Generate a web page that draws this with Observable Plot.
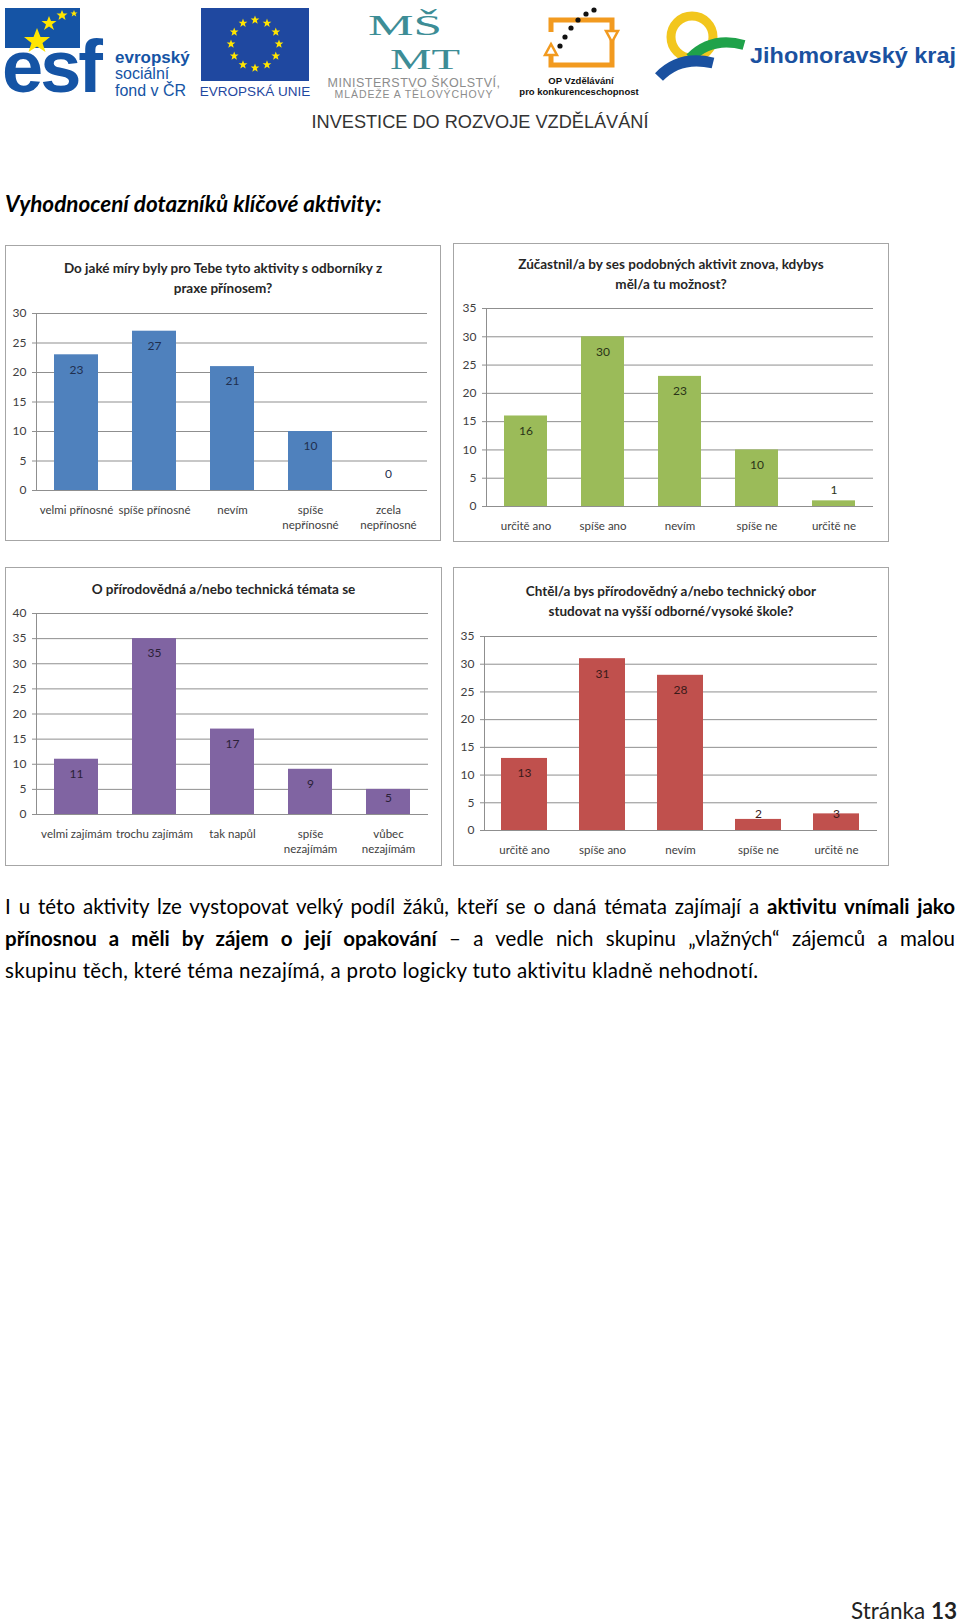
<!DOCTYPE html>
<html lang="cs">
<head>
<meta charset="utf-8">
<script src="https://cdn.jsdelivr.net/npm/d3@7"></script>
<script src="https://cdn.jsdelivr.net/npm/@observablehq/plot@0.6"></script>
<style>
  html, body { margin: 0; padding: 0; background: #fff; }
  #page { position: relative; width: 960px; height: 1624px; overflow: hidden; background: #fff; font-family: Lato, "Open Sans", sans-serif; color: #000; }
  .abs { position: absolute; white-space: nowrap; }
  .box { position: absolute; box-sizing: border-box; border: 1.5px solid #a6a6a6; background: #fff; }
  .ctitle { position: absolute; left: 0; right: 0; text-align: center; font-weight: bold; font-size: 13.5px; line-height: 20px; color: #262626; white-space: pre; }
  .para { position: absolute; left: 5px; width: 950px; font-size: 20.5px; line-height: 24px; color: #000; }
  .just { text-align: justify; text-align-last: justify; }
</style>
</head>
<body>
<div id="page">
  <!-- header logos -->
  <svg class="abs" style="left:0;top:0" width="960" height="135" viewBox="0 0 960 135">
    <!-- ESF -->
    <rect x="5" y="8" width="75" height="40" fill="#1554a5"/>
    <text x="2" y="92" font-family="Liberation Sans, Arial" font-weight="bold" font-size="74" fill="#1554a5" letter-spacing="-3">esf</text>
    <polygon points="37,28 40.5,37 50,37 42.5,43 45.5,52 37,46.5 28.5,52 31.5,43 24,37 33.5,37" fill="#ffe500"/>
    <polygon points="49,16 51,21 56.5,21 52,24.5 54,30 49,26.5 44,30 46,24.5 41.5,21 47,21" fill="#ffe500"/>
    <polygon points="62,10 63.5,13.5 67.5,13.5 64.5,16 65.5,20 62,17.5 58.5,20 59.5,16 56.5,13.5 60.5,13.5" fill="#ffe500"/>
    <polygon points="74,10 75,12.5 77.5,12.5 75.5,14 76.3,16.5 74,15 71.7,16.5 72.5,14 70.5,12.5 73,12.5" fill="#ffe500"/>
    <text x="115" y="63" font-family="Liberation Sans, Arial" font-weight="bold" font-size="17" fill="#1554a5">evropský</text>
    <text x="115" y="79" font-family="Liberation Sans, Arial" font-size="16" fill="#1554a5">sociální</text>
    <text x="115" y="96" font-family="Liberation Sans, Arial" font-size="16" fill="#1554a5">fond v ČR</text>
    <!-- EU -->
    <rect x="201" y="8" width="108" height="73" fill="#1f48a0"/>
    <g id="eustars" fill="#ffe500"></g>
    <text x="255" y="96" text-anchor="middle" font-family="Liberation Sans, Arial" font-size="13.5" fill="#1f48a0">EVROPSKÁ UNIE</text>
    <!-- MSMT -->
    <text x="368" y="35" font-family="Liberation Serif, serif" font-size="30" fill="#3d8d96" textLength="74" lengthAdjust="spacingAndGlyphs">MŠ</text>
    <text x="390" y="68.5" font-family="Liberation Serif, serif" font-size="30" fill="#3d8d96" textLength="70" lengthAdjust="spacingAndGlyphs">MT</text>
    <text x="414" y="87" text-anchor="middle" font-family="Liberation Sans, Arial" font-size="12.5" fill="#8c8c8c" letter-spacing="0.5">MINISTERSTVO ŠKOLSTVÍ,</text>
    <text x="414" y="98" text-anchor="middle" font-family="Liberation Sans, Arial" font-size="10.5" fill="#8c8c8c" letter-spacing="0.9">MLÁDEŽE A TĚLOVÝCHOVY</text>
    <!-- OP -->
    <path d="M 551 48 L 551 65 L 612 65 L 612 20 L 551 20 L 551 32" fill="none" stroke="#f29a1f" stroke-width="5"/>
    <polygon points="551,44 545,55 557,55" fill="#fff" stroke="#f29a1f" stroke-width="2.5"/>
    <polygon points="612,42 606,31 618,31" fill="#fff" stroke="#f29a1f" stroke-width="2.5"/>
    <circle cx="560" cy="46" r="2.6" fill="#111"/>
    <circle cx="565" cy="37" r="2.6" fill="#111"/>
    <circle cx="571" cy="28" r="2.6" fill="#111"/>
    <circle cx="578" cy="20" r="2.6" fill="#111"/>
    <circle cx="586" cy="14" r="2.6" fill="#111"/>
    <circle cx="594" cy="10" r="2.6" fill="#111"/>
    <text x="581" y="84" text-anchor="middle" font-family="Liberation Sans, Arial" font-weight="bold" font-size="9.5" fill="#111">OP Vzdělávání</text>
    <text x="579" y="95" text-anchor="middle" font-family="Liberation Sans, Arial" font-weight="bold" font-size="9.5" fill="#111">pro konkurenceschopnost</text>
    <!-- Jihomoravsky kraj -->
    <circle cx="692" cy="37" r="21" fill="none" stroke="#f2c61d" stroke-width="9"/>
    <path d="M 690 58 Q 712 36 744 45" fill="none" stroke="#1fa24a" stroke-width="10"/>
    <path d="M 659 77 Q 680 55 713 63" fill="none" stroke="#1a51a0" stroke-width="11"/>
    <text x="750" y="63" font-family="Liberation Sans, Arial" font-weight="bold" font-size="22.5" fill="#1a51a0" textLength="206" lengthAdjust="spacingAndGlyphs">Jihomoravský kraj</text>
    <text x="480" y="128" text-anchor="middle" font-family="Liberation Sans Narrow, Liberation Sans, Arial" font-size="18.5" fill="#333" textLength="337" lengthAdjust="spacingAndGlyphs">INVESTICE DO ROZVOJE VZDĚLÁVÁNÍ</text>
  </svg>

  <div class="abs" style="left:5px;top:191px;font-size:22.5px;font-weight:bold;font-style:italic;line-height:26px;">Vyhodnocení dotazníků klíčové aktivity:</div>

  <div class="para just" style="top:894px;">I u této aktivity lze vystopovat velký podíl žáků, kteří se o daná témata zajímají a <b>aktivitu vnímali jako</b></div>
  <div class="para just" style="top:926px;"><b>přínosnou a měli by zájem o její opakování</b> – a vedle nich skupinu „vlažných“ zájemců a malou</div>
  <div class="para" style="top:958px;letter-spacing:0.3px;">skupinu těch, které téma nezajímá, a proto logicky tuto aktivitu kladně nehodnotí.</div>

  <div class="abs" style="right:3px;top:1597px;font-size:22.5px;line-height:28px;color:#222;">Stránka <b>13</b></div>
</div>

<script>
// ---------- data ----------
const title1 = "Do jaké míry byly pro Tebe tyto aktivity s odborníky z\npraxe přínosem?";
const cats1 = ["velmi přínosné", "spíše přínosné", "nevím", "spíše\nnepřínosné", "zcela\nnepřínosné"];
const vals1 = [23, 27, 21, 10, 0];
const ticks1 = [0, 5, 10, 15, 20, 25, 30];

const title2 = "Zúčastnil/a by ses podobných aktivit znova, kdybys\nměl/a tu možnost?";
const cats2 = ["určitě ano", "spíše ano", "nevím", "spíše ne", "určitě ne"];
const vals2 = [16, 30, 23, 10, 1];
const ticks2 = [0, 5, 10, 15, 20, 25, 30, 35];

const title3 = "O přírodovědná a/nebo technická témata se";
const cats3 = ["velmi zajímám", "trochu zajímám", "tak napůl", "spíše\nnezajímám", "vůbec\nnezajímám"];
const vals3 = [11, 35, 17, 9, 5];
const ticks3 = [0, 5, 10, 15, 20, 25, 30, 35, 40];

const title4 = "Chtěl/a bys přírodovědný a/nebo technický obor\nstudovat na vyšší odborné/vysoké škole?";
const cats4 = ["určitě ano", "spíše ano", "nevím", "spíše ne", "určitě ne"];
const vals4 = [13, 31, 28, 2, 3];
const ticks4 = [0, 5, 10, 15, 20, 25, 30, 35];

// ---------- EU stars ----------
(function () {
  const g = document.getElementById("eustars");
  const cx = 255, cy = 44, R = 24, r1 = 4.6, r2 = 1.9;
  for (let k = 0; k < 12; k++) {
    const a = (k / 12) * 2 * Math.PI;
    const sx = cx + R * Math.sin(a), sy = cy - R * Math.cos(a);
    const pts = [];
    for (let j = 0; j < 10; j++) {
      const rr = j % 2 === 0 ? r1 : r2;
      const b = (j / 10) * 2 * Math.PI;
      pts.push((sx + rr * Math.sin(b)).toFixed(2) + "," + (sy - rr * Math.cos(b)).toFixed(2));
    }
    const p = document.createElementNS("http://www.w3.org/2000/svg", "polygon");
    p.setAttribute("points", pts.join(" "));
    g.appendChild(p);
  }
})();

// ---------- charts ----------
const page = document.getElementById("page");

function chart(cfg) {
  const {title, cats, vals, ticks, color, box, plotBox, titleTop, padInner, labelColor} = cfg;
  const div = document.createElement("div");
  div.className = "box";
  div.style.left = box.x0 + "px";
  div.style.top = box.y0 + "px";
  div.style.width = (box.x1 - box.x0) + "px";
  div.style.height = (box.y1 - box.y0) + "px";
  page.appendChild(div);

  const t = document.createElement("div");
  t.className = "ctitle";
  t.style.top = (titleTop - box.y0) + "px";
  t.textContent = title;
  div.appendChild(t);

  const data = cats.map((c, i) => ({cat: c, value: vals[i]}));
  const max = ticks[ticks.length - 1];
  const svgTop = plotBox.y0 - 15;
  const svgBottom = box.y1 - 2;
  const height = svgBottom - svgTop;
  const width = box.x1 - box.x0;
  const plotH = plotBox.y1 - plotBox.y0;
  const ppu = plotH / max;
  const big = data.filter(d => d.value * ppu >= 28);
  const small = data.filter(d => d.value * ppu < 28);

  const svg = Plot.plot({
    width, height,
    marginLeft: plotBox.x0 - box.x0,
    marginRight: box.x1 - plotBox.x1,
    marginTop: 15,
    marginBottom: svgBottom - plotBox.y1,
    style: {fontFamily: "Lato, 'Open Sans', sans-serif", fontSize: "11px", background: "transparent", overflow: "visible"},
    x: {domain: cats, paddingInner: padInner, paddingOuter: padInner / 2, label: null},
    y: {domain: [0, max], label: null},
    marks: [
      Plot.gridY(ticks, {stroke: "#8f8f8f", strokeOpacity: 1, strokeWidth: 1}),
      Plot.barY(data, {x: "cat", y: "value", fill: color}),
      Plot.ruleY([0], {stroke: "#8f8f8f", strokeWidth: 1}),
      Plot.frame({anchor: "left", stroke: "#8f8f8f"}),
      Plot.axisY(ticks, {tickSize: 4, tickPadding: 6, stroke: "#8f8f8f", fill: "#404040", fontSize: 12, label: null}),
      Plot.axisX({tickSize: 0, tickPadding: 12, fill: "#404040", fontSize: 11.5, lineHeight: 1.35, label: null}),
      Plot.text(big, {x: "cat", y: "value", text: d => String(d.value), dy: 15, fill: labelColor, fontSize: 12}),
      Plot.text(small, {x: "cat", frameAnchor: "bottom", text: d => String(d.value), dy: -13, fill: labelColor, fontSize: 12})
    ]
  });
  svg.style.position = "absolute";
  svg.style.left = box.x0 + "px";
  svg.style.top = svgTop + "px";
  page.appendChild(svg);
}

chart({title: title1, cats: cats1, vals: vals1, ticks: ticks1, color: "#4f81bd", labelColor: "#1f2f4f",
  box: {x0: 5, y0: 245, x1: 441, y1: 541}, plotBox: {x0: 36, y0: 313, x1: 427, y1: 490}, titleTop: 257, padInner: 0.44});
chart({title: title2, cats: cats2, vals: vals2, ticks: ticks2, color: "#9bbb59", labelColor: "#2a3318",
  box: {x0: 453, y0: 243, x1: 889, y1: 542}, plotBox: {x0: 486, y0: 308, x1: 873, y1: 506}, titleTop: 253, padInner: 0.44});
chart({title: title3, cats: cats3, vals: vals3, ticks: ticks3, color: "#8064a2", labelColor: "#2b2138",
  box: {x0: 5, y0: 567, x1: 442, y1: 866}, plotBox: {x0: 36, y0: 613, x1: 428, y1: 814}, titleTop: 578, padInner: 0.44});
chart({title: title4, cats: cats4, vals: vals4, ticks: ticks4, color: "#c0504d", labelColor: "#3a1a19",
  box: {x0: 453, y0: 567, x1: 889, y1: 866}, plotBox: {x0: 484, y0: 636, x1: 877, y1: 830}, titleTop: 580, padInner: 0.41});
</script>
</body>
</html>
